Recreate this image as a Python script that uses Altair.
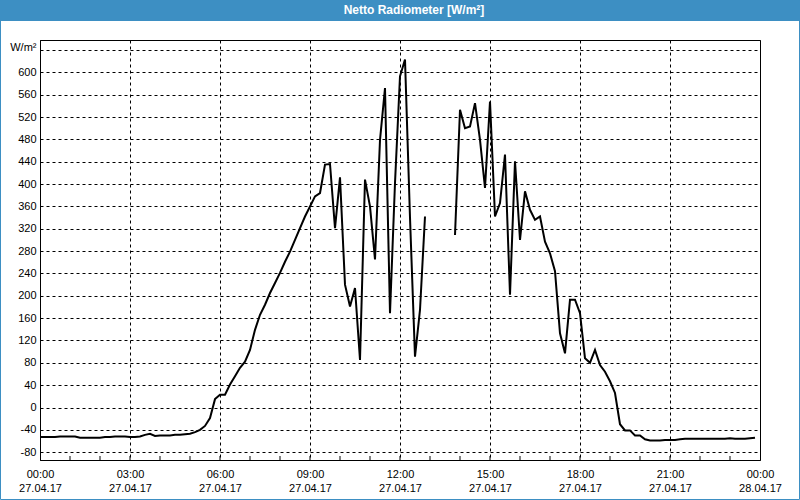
import altair as alt
import pandas as pd

# ---- data (10-minute readings, 27.04.17) ----
start_time = "2017-04-27 00:00"
values = [
    -53, -53, -53, -53, -52, -52, -52, -52, -54, -54,    # 00:00-01:30
    -54, -54, -54, -53, -53, -52, -52, -52, -53, -53,    # 01:40-03:10
    -52, -49, -47, -51, -50, -50, -50, -49, -49, -48,    # 03:20-04:50
    -47, -44, -40, -33, -19, 15, 23, 23, 41, 56,         # 05:00-06:30
    71, 82, 103, 139, 166, 184, 205, 223, 241, 261,      # 06:40-08:10
    279, 300, 321, 342, 360, 378, 384, 435, 436, 321,    # 08:20-09:50
    412, 220, 181, 214, 85, 408, 360, 265, 479, 572,     # 10:00-11:30
    169, 402, 593, 623, 340, 91, 175, 342, None, None,   # 11:40-13:10
    None, None, None, 309, 533, 500, 503, 545, 479, 393, # 13:20-14:50
    548, 342, 366, 453, 202, 441, 300, 387, 354, 336,    # 15:00-16:30
    342, 297, 276, 244, 133, 97, 193, 193, 169, 88,      # 16:40-18:10
    80, 103, 76, 64, 47, 26, -30, -41, -41, -50,         # 18:20-19:50
    -50, -57, -59, -59, -59, -58, -58, -58, -57, -56,    # 20:00-21:30
    -56, -56, -56, -56, -56, -56, -56, -56, -55, -56,    # 21:40-23:10
    -56, -56, -55, -54,                                  # 23:20-23:50
]
y_ticks = list(range(-80, 641, 40))
x_major_hours = [0, 3, 6, 9, 12, 15, 18, 21, 24]
x_minor_hours = list(range(1, 24))
title_text = "Netto Radiometer [W/m²]"
unit_label = "W/m²"

times = pd.date_range(start_time, periods=len(values), freq="10min")
df = pd.DataFrame({"time": times, "value": values})
df["segment"] = df["value"].isna().cumsum()
df = df.dropna()

minor_df = pd.DataFrame({"time": [pd.Timestamp(start_time) + pd.Timedelta(hours=h) for h in x_minor_hours]})


def dt(h):
    d = 27 + h // 24
    return alt.DateTime(year=2017, month=4, date=d, hours=h % 24)


W, H = 720, 420
FONT = "Liberation Sans"
BLUE = "#3d8fc3"

x_scale = alt.Scale(domain=[dt(0), dt(24)])

x_axis = alt.Axis(
    values=[dt(h) for h in x_major_hours],
    labelExpr="[timeFormat(datum.value, '%H:%M'), timeFormat(datum.value, '%d.%m.%y')]",
    grid=True, gridDash=[3, 3], gridColor="black", gridOpacity=1, gridWidth=1,
    tickSize=0, labelPadding=8, labelLineHeight=14,
    domainColor="black", title=None,
    labelFont=FONT, labelFontSize=11, labelColor="black",
    labelAlign="center", labelOverlap=False, labelFlush=False,
)
y_axis = alt.Axis(
    values=y_ticks,
    labelExpr=f"datum.value == 640 ? '{unit_label}' : '' + datum.value",
    labelBaseline=alt.condition("datum.value == 640", alt.value("alphabetic"), alt.value("middle")),
    grid=True, gridDash=[3, 3], gridColor="black", gridOpacity=1, gridWidth=1,
    tickSize=0, labelPadding=4,
    domainColor="black", title=None,
    labelFont=FONT, labelFontSize=11, labelColor="black", labelOverlap=False,
    labelFlush=False,
)

line = alt.Chart(df).mark_line(color="black", strokeWidth=2).encode(
    x=alt.X("time:T", scale=x_scale, axis=x_axis),
    y=alt.Y("value:Q", scale=alt.Scale(domain=[-94, 658], nice=False, zero=False), axis=y_axis),
    detail="segment:N",
)

minor = alt.Chart(minor_df).mark_rule(color="black", strokeWidth=1).encode(
    x=alt.X("time:T", scale=x_scale),
    y=alt.value(H - 4),
    y2=alt.value(H),
)

one = alt.Data(values=[{}])
bar = alt.Chart(one).mark_rect(color=BLUE).encode(
    x=alt.value(-40), x2=alt.value(W + 40), y=alt.value(-40), y2=alt.value(-19)
)
frame = alt.Chart(one).mark_rect(filled=False, stroke=BLUE, strokeWidth=1).encode(
    x=alt.value(-39.5), x2=alt.value(W + 39.5), y=alt.value(-39.5), y2=alt.value(H + 39.5)
)
title = alt.Chart(one).mark_text(
    text=title_text, font=FONT, fontSize=12, fontWeight="bold", color="white",
    align="center", baseline="middle",
).encode(x=alt.value(374), y=alt.value(-30))

chart = alt.layer(line, minor, bar, frame, title).properties(
    width=W, height=H,
    autosize=alt.AutoSizeParams(type="none"),
    padding={"left": 40, "top": 40, "right": 40, "bottom": 40},
    background="white",
).configure_view(stroke="black", strokeWidth=1)

chart.save("out.html", embed_options={"renderer": "svg", "actions": False})
